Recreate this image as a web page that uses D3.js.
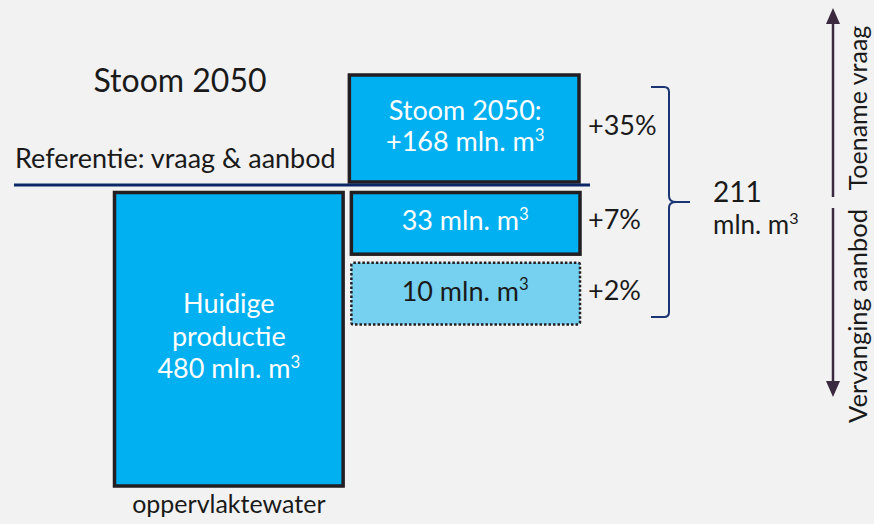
<!DOCTYPE html>
<html><head><meta charset="utf-8">
<script src="https://cdn.jsdelivr.net/npm/d3@7"></script>
<style>body{margin:0;background:#f2f2f2}svg{display:block}text{font-family:Lato,"DejaVu Sans",sans-serif}</style>
</head><body>
<svg id="c" width="874" height="524"></svg>
<script>
// ---- data ----
const title = "Stoom 2050";
const referenceLabel = "Referentie: vraag & aanbod";
const baseCategory = "oppervlaktewater";
const baseValue = 480;             // mln. m3 huidige productie
const baseLines = ["Huidige", "productie", "480 mln. m\u00B3"];
const extraCategories = ["Stoom 2050", "Vervanging A", "Vervanging B"];
const extraValues = [168, 33, 10];            // mln. m3
const extraPercent = ["+35%", "+7%", "+2%"];
const extraLabels = [["Stoom 2050:", "+168 mln. m\u00B3"], ["33 mln. m\u00B3"], ["10 mln. m\u00B3"]];
const totalValue = 211;
const totalUnit = "mln. m\u00B3";
const arrowLabels = ["Toename vraag", "Vervanging aanbod"];

// ---- helpers ----
function setText(sel, str) {
  const parts = String(str).split("\u00B3");
  parts.forEach((p, i) => {
    if (p) sel.append("tspan").text(p);
    if (i < parts.length - 1) {
      sel.append("tspan").attr("font-size", "0.62em").attr("dy", "-0.62em").text("3");
    }
  });
}

// ---- drawing ----
const svg = d3.select("#c");
const W = 874, H = 524;
svg.append("rect").attr("width", W).attr("height", H).attr("fill", "#f2f2f2");

const refY = 185;
const x = d3.scaleBand().domain([baseCategory, "extra"]).range([113, 581]).paddingInner(0.02);
const yBase = d3.scaleLinear().domain([0, baseValue]).range([486, 191]);
const yRows = d3.scaleBand().domain(extraCategories.slice(1)).range([191, 326]).paddingInner(0.08);
const topBox = {y0: 75, y1: refY - 3};

const fillMain = "#00b0f0", fillLight = "#76d0f0", stroke = "#221e22", ink = "#1a1a1a";

// base box
svg.append("rect")
  .attr("x", x(baseCategory) + 1.5).attr("y", yBase(baseValue) + 1.5)
  .attr("width", x.bandwidth() - 3).attr("height", yBase(0) - yBase(baseValue) - 1.5)
  .attr("fill", fillMain).attr("stroke", stroke).attr("stroke-width", 3.5);
const bx = x(baseCategory) + x.bandwidth() / 2;
baseLines.forEach((d, i) => {
  const t = svg.append("text").attr("x", bx).attr("y", 313 + i * 32.5)
    .attr("text-anchor", "middle").attr("fill", "#fff").attr("font-size", 27);
  setText(t, d);
});
svg.append("text").attr("x", bx).attr("y", 513).attr("text-anchor", "middle")
  .attr("fill", ink).attr("font-size", 25).text(baseCategory);

// right column boxes
const ex = x("extra") + 1;
const ew = x.bandwidth() - 2;
const boxes = extraCategories.map((c, i) => {
  if (i === 0) return {c, y: topBox.y0, h: topBox.y1 - topBox.y0, i};
  return {c, y: yRows(c) + 1.5, h: yRows.bandwidth() - 3, i};
});
svg.append("g").selectAll("rect").data(boxes).join("rect")
  .attr("x", d => d.i === 0 ? ex - 1 : ex + 1).attr("y", d => d.y)
  .attr("width", d => d.i === 0 ? ew : ew - 1).attr("height", d => d.h)
  .attr("fill", d => d.i === 2 ? fillLight : fillMain)
  .attr("stroke", stroke).attr("stroke-width", d => d.i === 2 ? 2.5 : 3.5)
  .attr("stroke-dasharray", d => d.i === 2 ? "2.5,2" : null)
  .attr("rx", d => d.i === 2 ? 2 : 0);

const cx = ex + ew / 2;
boxes.forEach(b => {
  const lines = extraLabels[b.i];
  const mid = b.y + b.h / 2;
  const lh = 31;
  lines.forEach((d, j) => {
    const t = svg.append("text").attr("x", cx)
      .attr("y", mid + 7 + (j - (lines.length - 1) / 2) * lh)
      .attr("text-anchor", "middle").attr("font-size", 27)
      .attr("fill", b.i === 2 ? ink : "#fff");
    setText(t, d);
  });
  svg.append("text").attr("x", 588).attr("y", mid + 6).attr("font-size", 27)
    .attr("fill", ink).text(extraPercent[b.i]);
});

// reference line
svg.append("line").attr("x1", 14).attr("x2", 590).attr("y1", refY).attr("y2", refY)
  .attr("stroke", "#0c2766").attr("stroke-width", 3);
svg.append("text").attr("x", 15).attr("y", 168).attr("font-size", 27)
  .attr("fill", ink).text(referenceLabel);
svg.append("text").attr("x", 180).attr("y", 92).attr("text-anchor", "middle")
  .attr("font-size", 32).attr("fill", ink).text(title);

// bracket
const bTop = 87, bBot = 317, bMid = 202;
svg.append("path")
  .attr("d", `M651,${bTop} H664 Q669,${bTop} 669,${bTop + 5} V${bMid - 6} Q669,${bMid} 676,${bMid} H690 M676,${bMid} Q669,${bMid} 669,${bMid + 6} V${bBot - 5} Q669,${bBot} 664,${bBot} H651`)
  .attr("fill", "none").attr("stroke", "#1b3474").attr("stroke-width", 2);
svg.append("text").attr("x", 713).attr("y", 202).attr("font-size", 28).attr("fill", ink).text(totalValue);
setText(svg.append("text").attr("x", 713).attr("y", 234).attr("font-size", 26).attr("fill", ink), totalUnit);

// arrows
const ac = "#3b2a3f";
svg.append("line").attr("x1", 833).attr("x2", 833).attr("y1", 197).attr("y2", 22).attr("stroke", ac).attr("stroke-width", 2.5);
svg.append("path").attr("d", "M833,8 L826,24 L840,24 Z").attr("fill", ac);
svg.append("line").attr("x1", 833).attr("x2", 833).attr("y1", 208).attr("y2", 383).attr("stroke", ac).attr("stroke-width", 2.5);
svg.append("path").attr("d", "M833,397 L826,381 L840,381 Z").attr("fill", ac);
svg.append("text").attr("transform", "translate(867,108) rotate(-90)").attr("text-anchor", "middle")
  .attr("font-size", 25).attr("fill", ink).text(arrowLabels[0]);
svg.append("text").attr("transform", "translate(867,316) rotate(-90)").attr("text-anchor", "middle")
  .attr("font-size", 25.5).attr("fill", ink).text(arrowLabels[1]);
</script>
</body></html>
